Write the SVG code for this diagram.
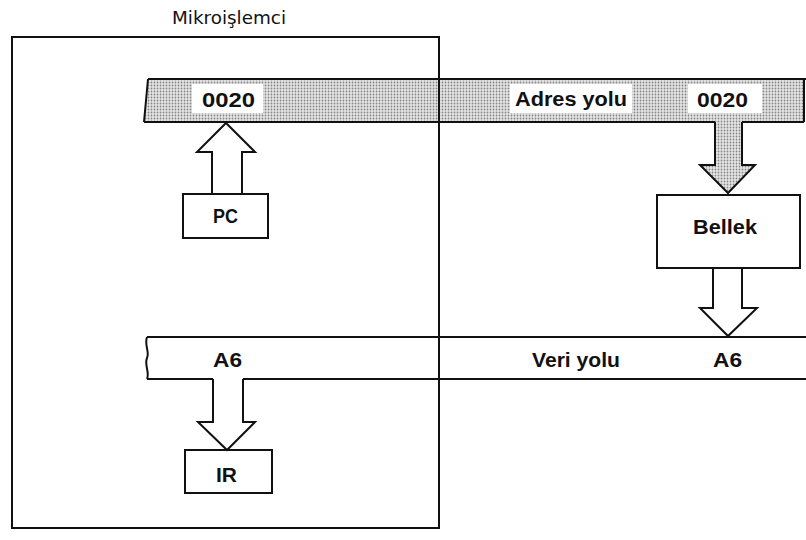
<svg xmlns="http://www.w3.org/2000/svg" width="806" height="540" viewBox="0 0 806 540">
  <defs>
    <pattern id="dots" width="3" height="3" patternUnits="userSpaceOnUse">
      <rect width="3" height="3" fill="#e6e6e6"/>
      <circle cx="1.5" cy="1.5" r="0.9" fill="#858585"/>
    </pattern>
  </defs>
  <style>
    .ln { fill: none; stroke: #111; stroke-width: 2; stroke-linejoin: miter; }
    .box { fill: #fff; stroke: #111; stroke-width: 2; }
    .lbl { font-family: "Liberation Sans", Arial, sans-serif; font-weight: bold; font-size: 20px; fill: #111; }
    .title { font-family: "DejaVu Sans", Verdana, sans-serif; font-size: 17px; fill: #111; }
  </style>
  <rect width="806" height="540" fill="#fff"/>

  <g id="address-bus">
    <path d="M148,79 L804,79 L804,122 L144,122 Z" fill="url(#dots)"/>
    <path class="ln" d="M148,79 H806 M148,79 L144,122 M144,122 H715 M742,122 H804 M804,79 V122"/>
    <rect x="192" y="84" width="71" height="29" fill="#fff"/>
    <rect x="510" y="84" width="122" height="29" fill="#fff"/>
    <rect x="688" y="84" width="74" height="29" fill="#fff"/>
    <text class="lbl" x="202" y="107" textLength="53" lengthAdjust="spacingAndGlyphs">0020</text>
    <text class="lbl" x="515" y="106" textLength="112" lengthAdjust="spacingAndGlyphs">Adres yolu</text>
    <text class="lbl" x="697" y="107" textLength="51" lengthAdjust="spacingAndGlyphs">0020</text>
  </g>

  <g id="data-bus">
    <path d="M147,337 H806 V379 H147 C144,372 150,365 147,358 C144,352 150,345 147,337 Z" fill="#fff"/>
    <path class="ln" d="M147,337 H806 M147,379 H213 M243,379 H806 M147,337 C144,345 150,352 147,358 C144,365 150,372 147,379"/>
    <text class="lbl" x="213" y="367" textLength="29" lengthAdjust="spacingAndGlyphs">A6</text>
    <text class="lbl" x="532" y="367" textLength="88" lengthAdjust="spacingAndGlyphs">Veri yolu</text>
    <text class="lbl" x="713" y="367" textLength="29" lengthAdjust="spacingAndGlyphs">A6</text>
  </g>

  <g id="mikroislemci">
    <rect x="12" y="37" width="427" height="491" fill="none" stroke="#111" stroke-width="2"/>
    <text class="title" x="172" y="24" textLength="114" lengthAdjust="spacingAndGlyphs">Mikroişlemci</text>
  </g>

  <g id="pc">
    <rect class="box" x="183" y="194" width="85" height="44"/>
    <text class="lbl" x="213" y="223" textLength="25" lengthAdjust="spacingAndGlyphs">PC</text>
  </g>

  <g id="bellek">
    <rect class="box" x="657" y="195" width="143" height="73"/>
    <text class="lbl" x="693" y="234" textLength="64" lengthAdjust="spacingAndGlyphs">Bellek</text>
  </g>

  <g id="ir">
    <rect class="box" x="185" y="450" width="87" height="43"/>
    <text class="lbl" x="216" y="482" textLength="21" lengthAdjust="spacingAndGlyphs">IR</text>
  </g>

  <g id="connectors">
    <polygon class="ln" style="fill:#fff" points="212,194 212,152 197,152 226,123 255,152 242,152 242,194"/>
    <path d="M715,121 V165 H700 L728,193 L755,165 H742 V121 Z" fill="url(#dots)"/>
    <polyline class="ln" points="715,122 715,165 700,165 728,193 755,165 742,165 742,122"/>
    <polygon class="ln" style="fill:#fff" points="713,268 713,308 700,308 728,336 757,308 742,308 742,268"/>
    <polyline class="ln" style="fill:#fff" points="213,379 213,422 198,422 227,450 255,422 243,422 243,379"/>
  </g>
</svg>
